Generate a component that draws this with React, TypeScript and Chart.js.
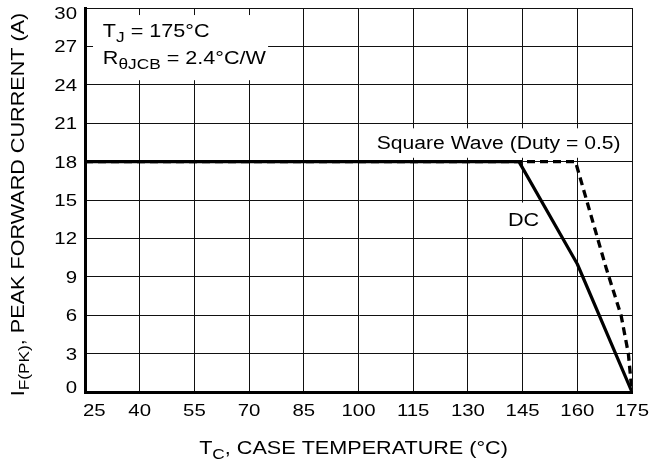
import React, { useEffect, useRef } from 'react';
import { Chart, registerables } from 'chart.js';

Chart.register(...registerables);

// ---- data ----
const xTicks = [25, 40, 55, 70, 85, 100, 115, 130, 145, 160, 175];
const yTicks = [0, 3, 6, 9, 12, 15, 18, 21, 24, 27, 30];
const xTickLabels = xTicks.map(String);
const yTickLabels = yTicks.map(String);

const dcTemp = [25, 144, 160, 175];
const dcCurrent = [18, 18, 10, 0];
const sqTemp = [25, 159.5, 168, 172, 174, 175];
const sqCurrent = [18, 18, 9.6, 6, 3, 0];

// annotation anchors in data coordinates
const infoBox = { x0: 27.2, x1: 75.2, y0: 29.45, y1: 24.36 };
const infoLine1 = { x: 29.9, y: 28.2 };
const infoLine2 = { x: 29.9, y: 26.1 };
const sqBox = { x0: 103.7, x1: 173.1, y0: 20.6, y1: 18.3 };
const sqLabel = { x: 105.0, y: 19.5 };
const dcBox = { x0: 139.6, x1: 150.0, y0: 14.8, y1: 12.1 };
const dcLabel = { x: 141.0, y: 13.5 };

const FONT = '"Liberation Sans", Arial, Helvetica, sans-serif';
const SX = 1.2;

type Part = { t: string; sub?: boolean };

function measureRich(ctx: CanvasRenderingContext2D, parts: Part[], size: number) {
  let w = 0;
  for (const p of parts) {
    ctx.font = `${p.sub ? size * 0.8 : size}px ${FONT}`;
    w += ctx.measureText(p.t).width;
  }
  return w * SX;
}

function drawRich(
  ctx: CanvasRenderingContext2D,
  parts: Part[],
  x: number,
  y: number,
  size: number,
  align: 'left' | 'center' | 'right',
  rotate = false
) {
  ctx.save();
  const w = measureRich(ctx, parts, size) / SX;
  ctx.translate(x, y);
  if (rotate) ctx.rotate(-Math.PI / 2);
  ctx.scale(SX, 1);
  let cx = align === 'left' ? 0 : align === 'center' ? -w / 2 : -w;
  ctx.fillStyle = '#000';
  ctx.textBaseline = 'alphabetic';
  ctx.textAlign = 'left';
  const base = size * 0.358;
  for (const p of parts) {
    const s = p.sub ? size * 0.8 : size;
    ctx.font = `${s}px ${FONT}`;
    ctx.fillText(p.t, cx, base + (p.sub ? size * 0.25 : 0));
    cx += ctx.measureText(p.t).width;
  }
  ctx.restore();
}

const annotPlugin = {
  id: 'annot',
  beforeDatasetsDraw(chart: any) {
    const ctx = chart.ctx as CanvasRenderingContext2D;
    const xs = chart.scales.x;
    const ys = chart.scales.y;
    const X = (v: number) => xs.getPixelForValue(v);
    const Y = (v: number) => ys.getPixelForValue(v);
    ctx.save();
    ctx.fillStyle = '#fff';
    for (const b of [infoBox, sqBox, dcBox]) {
      ctx.fillRect(X(b.x0), Y(b.y0), X(b.x1) - X(b.x0), Y(b.y1) - Y(b.y0));
    }
    ctx.restore();
    drawRich(ctx, [{ t: 'T' }, { t: 'J', sub: true }, { t: ' = 175°C' }], X(infoLine1.x), Y(infoLine1.y), 18, 'left');
    drawRich(ctx, [{ t: 'R' }, { t: 'θJCB', sub: true }, { t: ' = 2.4°C/W' }], X(infoLine2.x), Y(infoLine2.y), 18, 'left');
    drawRich(ctx, [{ t: 'Square Wave (Duty = 0.5)' }], X(sqLabel.x), Y(sqLabel.y), 17.6, 'left');
    drawRich(ctx, [{ t: 'DC' }], X(dcLabel.x), Y(dcLabel.y), 18, 'left');
  },
  afterDraw(chart: any) {
    const ctx = chart.ctx as CanvasRenderingContext2D;
    const xs = chart.scales.x;
    const ys = chart.scales.y;
    const area = chart.chartArea;
    const TS = 17;
    // x tick labels
    xs.ticks.forEach((tk: any) => {
      const parts = [{ t: xTickLabels[xTicks.indexOf(tk.value)] ?? String(tk.value) }];
      const w = measureRich(ctx, parts, TS);
      let c = xs.getPixelForValue(tk.value);
      if (c - w / 2 < area.left - 2) c = area.left - 2 + w / 2;
      if (c + w / 2 > chart.width - 1) c = chart.width - 1 - w / 2;
      drawRich(ctx, parts, c, area.bottom + 18, TS, 'center');
    });
    // y tick labels
    ys.ticks.forEach((tk: any) => {
      const parts = [{ t: yTickLabels[yTicks.indexOf(tk.value)] ?? String(tk.value) }];
      let c = ys.getPixelForValue(tk.value);
      c = Math.max(area.top + 4.5, Math.min(area.bottom - 5, c));
      drawRich(ctx, parts, area.left - 8, c, TS, 'right');
    });
    // axis titles
    drawRich(
      ctx,
      [{ t: 'T' }, { t: 'C', sub: true }, { t: ', CASE TEMPERATURE (°C)' }],
      (area.left + area.right) / 2 - 5,
      448,
      18,
      'center'
    );
    drawRich(
      ctx,
      [{ t: 'I' }, { t: 'F(PK)', sub: true }, { t: ', PEAK FORWARD CURRENT (A)' }],
      17.8,
      (area.top + area.bottom) / 2 + 4.5,
      18,
      'center',
      true
    );
  },
};

export default function App() {
  const ref = useRef<HTMLCanvasElement | null>(null);
  useEffect(() => {
    document.body.style.margin = '0';
    const canvas = ref.current!;
    const chart = new Chart(canvas, {
      type: 'line',
      data: {
        datasets: [
          {
            label: 'DC',
            data: dcTemp.map((x, i) => ({ x, y: dcCurrent[i] })),
            borderColor: '#000',
            borderWidth: 3.2,
            pointRadius: 0,
            fill: false,
            tension: 0,
            borderJoinStyle: 'round',
          },
          {
            label: 'Square Wave (Duty = 0.5)',
            data: sqTemp.map((x, i) => ({ x, y: sqCurrent[i] })),
            borderColor: '#000',
            borderWidth: 3.3,
            borderDash: [8, 5],
            pointRadius: 0,
            fill: false,
            tension: 0,
            borderJoinStyle: 'round',
          },
        ],
      },
      options: {
        animation: false,
        responsive: false,
        devicePixelRatio: 1,
        layout: { padding: { left: 0, right: 18, top: 8, bottom: 0 } },
        plugins: { legend: { display: false }, tooltip: { enabled: false } },
        scales: {
          x: {
            type: 'linear',
            min: 25,
            max: 175,
            afterBuildTicks: (s: any) => {
              s.ticks = xTicks.map((v) => ({ value: v }));
            },
            afterFit: (s: any) => {
              s.height = 73;
            },
            ticks: { display: false },
            grid: { color: '#111', lineWidth: 1, drawTicks: false },
            border: { display: true, color: '#000', width: 3 },
          },
          y: {
            type: 'linear',
            min: 0,
            max: 30,
            afterBuildTicks: (s: any) => {
              s.ticks = yTicks.map((v) => ({ value: v }));
            },
            afterFit: (s: any) => {
              s.width = 85;
            },
            ticks: { display: false },
            grid: { color: '#111', lineWidth: 1, drawTicks: false },
            border: { display: true, color: '#000', width: 3 },
          },
        },
      } as any,
      plugins: [annotPlugin],
    });
    return () => chart.destroy();
  }, []);
  return (
    <div style={{ width: 650, height: 465, background: '#fff' }}>
      <canvas ref={ref} width={650} height={465} style={{ display: 'block', width: 650, height: 465 }} />
    </div>
  );
}
